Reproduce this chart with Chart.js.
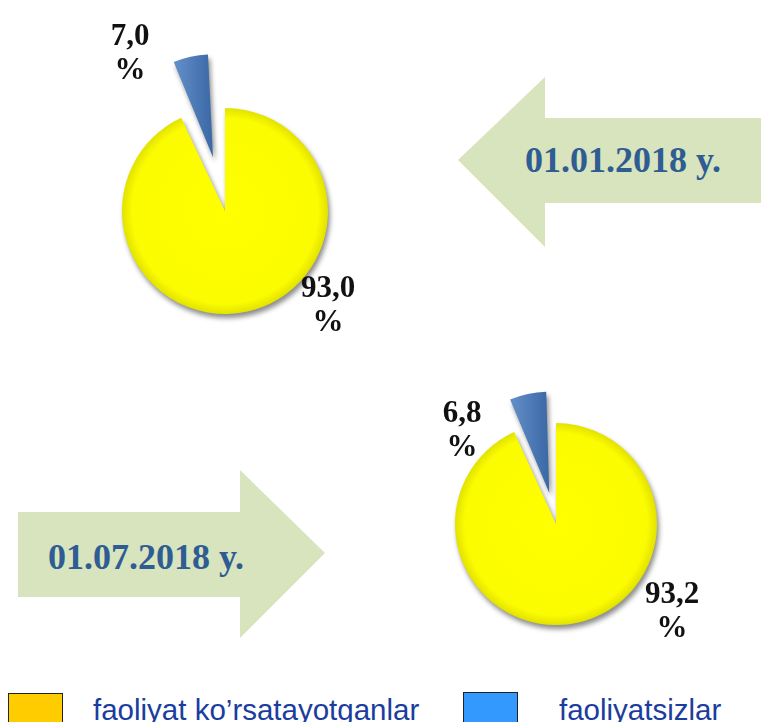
<!DOCTYPE html>
<html>
<head>
<meta charset="utf-8">
<script src="https://cdn.jsdelivr.net/npm/chart.js@4.4.0/dist/chart.umd.min.js"></script>
<style>
  html, body { margin: 0; padding: 0; background: #fff; overflow: hidden; }
  #page { position: relative; width: 761px; height: 722px; overflow: hidden; }
  canvas { position: absolute; }
  .arrow { position: absolute; background: #d7e4bd; }
  .date {
    position: absolute; font-family: "Liberation Serif", "Times New Roman", serif;
    font-weight: bold; font-size: 36px; line-height: 36px; color: #2e5c93; white-space: nowrap;
  }
  .pct {
    position: absolute; font-family: "Liberation Serif", "Times New Roman", serif;
    font-weight: bold; font-size: 31px; line-height: 34px; color: #111; text-align: center;
    width: 80px; white-space: pre;
  }
  .lgbox { position: absolute; width: 53px; height: 40px; border: 1.5px solid #222; }
  .lgtext {
    position: absolute; font-family: "Liberation Sans", Arial, sans-serif; font-size: 29.5px;
    line-height: 30px; color: #1a3d9e; white-space: nowrap;
  }
</style>
</head>
<body>
<div id="page">
  <div class="arrow" style="left:458px;top:77px;width:303px;height:170px;
    clip-path:polygon(0px 83px,87px 0px,87px 41px,303px 41px,303px 126px,87px 126px,87px 170px);"></div>
  <div class="arrow" style="left:18px;top:470px;width:307px;height:168px;
    clip-path:polygon(0px 42px,222px 42px,222px 0px,307px 83px,222px 168px,222px 127px,0px 127px);"></div>
  <div class="date" id="date1" style="left:525px;top:142px;"></div>
  <div class="date" id="date2" style="left:48px;top:539px;"></div>

  <canvas id="pie1" width="270" height="340" style="left:90px;top:41px;"></canvas>
  <canvas id="pie2" width="270" height="290" style="left:421px;top:379px;"></canvas>

  <div class="pct" id="lab1" style="left:90px;top:18px;"></div>
  <div class="pct" id="lab2" style="left:288px;top:270px;"></div>
  <div class="pct" id="lab3" style="left:422px;top:395px;"></div>
  <div class="pct" id="lab4" style="left:632px;top:576px;"></div>

  <div class="lgbox" style="left:8px;top:693px;background:#ffcc00;"></div>
  <div class="lgtext" id="lg1" style="left:93px;top:695px;"></div>
  <div class="lgbox" style="left:463px;top:692px;background:#3399ff;"></div>
  <div class="lgtext" id="lg2" style="left:559px;top:695px;"></div>
</div>
<script>
const categories = ['faoliyat ko’rsatayotganlar', 'faoliyatsizlar'];
const dates = ['01.01.2018 y.', '01.07.2018 y.'];
const valuesJan = [93.0, 7.0];
const valuesJul = [93.2, 6.8];

const fmt = v => v.toFixed(1).replace('.', ',') + '\n%';

document.getElementById('date1').textContent = dates[0];
document.getElementById('date2').textContent = dates[1];
document.getElementById('lab1').textContent = fmt(valuesJan[1]);
document.getElementById('lab2').textContent = fmt(valuesJan[0]);
document.getElementById('lab3').textContent = fmt(valuesJul[1]);
document.getElementById('lab4').textContent = fmt(valuesJul[0]);
document.getElementById('lg1').textContent = categories[0];
document.getElementById('lg2').textContent = categories[1];

// soft shadow under the slices
const shadow = {
  id: 'shadow',
  beforeDatasetsDraw(chart) {
    const c = chart.ctx;
    c.save();
    c.shadowColor = 'rgba(0,0,0,0.45)';
    c.shadowBlur = 5;
    c.shadowOffsetX = 2;
    c.shadowOffsetY = 4;
  },
  afterDatasetsDraw(chart) {
    chart.ctx.restore();
  }
};

// chart.js grows an offset slice's radius too; keep it the same size as the rest
const keepRadius = {
  id: 'keepRadius',
  afterDatasetsUpdate(chart) {
    chart.getDatasetMeta(0).data.forEach(arc => {
      const off = (arc.options.offset || 0) / 4;
      if (!off) return;
      const circ = arc.endAngle - arc.startAngle;
      const fix = 1 - Math.sin(Math.min(Math.PI, circ));
      arc.outerRadius = chart.options.radius - off * fix;
    });
  }
};

function sliceColor(context) {
  const chart = context.chart;
  const area = chart.chartArea;
  if (!area) return context.dataIndex === 0 ? '#ffff00' : '#4f81bd';
  const cx = (area.left + area.right) / 2;
  const cy = (area.top + area.bottom) / 2;
  const r = chart.options.radius;
  const c = chart.ctx;
  if (context.dataIndex === 0) {
    const g = c.createRadialGradient(cx, cy, 0, cx, cy, r);
    g.addColorStop(0, '#ffff00');
    g.addColorStop(0.9, '#fcfc00');
    g.addColorStop(1, '#e2e200');
    return g;
  }
  const g = c.createLinearGradient(cx - 60, 0, cx, 0);
  g.addColorStop(0, '#7aa5dc');
  g.addColorStop(1, '#3a68a6');
  return g;
}

function makePie(id, values, radius, shift) {
  return new Chart(document.getElementById(id), {
    type: 'pie',
    data: {
      labels: categories,
      datasets: [{
        data: values,
        backgroundColor: sliceColor,
        borderWidth: 0,
        offset: [0, shift * 4],
        hoverOffset: 0
      }]
    },
    options: {
      responsive: false,
      animation: false,
      devicePixelRatio: 1,
      events: [],
      radius: radius,
      rotation: 0,
      layout: { padding: 0 },
      plugins: { legend: { display: false }, tooltip: { enabled: false } }
    },
    plugins: [shadow, keepRadius]
  });
}

makePie('pie1', valuesJan, 103, 55);
makePie('pie2', valuesJul, 101, 32);
</script>
</body>
</html>
